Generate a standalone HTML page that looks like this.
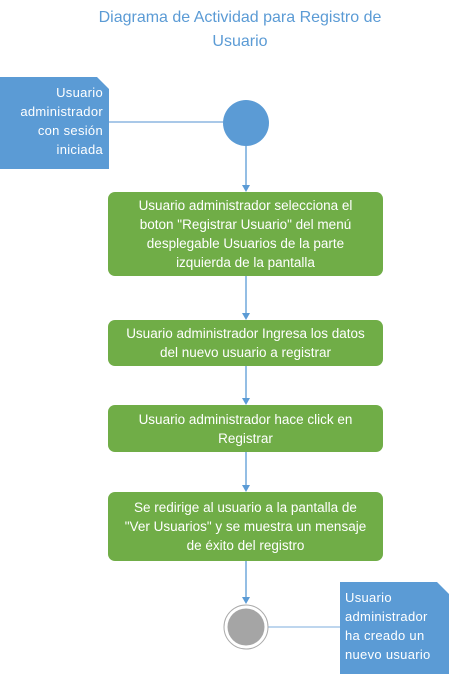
<!DOCTYPE html>
<html><head><meta charset="utf-8"><style>
body{margin:0;width:449px;height:674px;background:#fff;position:relative;overflow:hidden;font-family:"Liberation Sans",sans-serif}
.t{position:absolute;left:40px;width:400px;top:6px;text-align:center;color:#5b9bd5;font-size:16px;line-height:24px}
.b{position:absolute;left:108px;width:275px;background:#70ad47;border-radius:7px;color:#fff;font-size:13.5px;line-height:19px;text-align:center;display:flex;align-items:center;justify-content:center;box-sizing:border-box;white-space:nowrap}
.n{position:absolute;background:#5b9bd5;color:#fff;font-size:13px;line-height:19px;box-sizing:border-box;letter-spacing:0.3px}
</style></head><body>
<div class="t">Diagrama de Actividad para Registro de<br>Usuario</div>
<svg width="449" height="674" style="position:absolute;left:0;top:0">
<g stroke="#5b9bd5" stroke-width="1.3" fill="none">
<line x1="246" y1="146" x2="246" y2="186"/>
<line x1="246" y1="276" x2="246" y2="314"/>
<line x1="246" y1="366" x2="246" y2="399"/>
<line x1="246" y1="452" x2="246" y2="486"/>
<line x1="246" y1="561" x2="246" y2="598"/>
</g>
<g fill="#5b9bd5">
<path d="M242,185 L250,185 L246,192z"/>
<path d="M242,313 L250,313 L246,320z"/>
<path d="M242,398 L250,398 L246,405z"/>
<path d="M242,485 L250,485 L246,492z"/>
<path d="M242,597 L250,597 L246,604z"/>
</g>
<line x1="109" y1="122" x2="223" y2="122" stroke="#a9c8e8" stroke-width="2"/>
<line x1="268" y1="627" x2="340" y2="627" stroke="#a9c8e8" stroke-width="1.5"/>
<circle cx="246" cy="123" r="23" fill="#5b9bd5"/>
<circle cx="246" cy="627" r="22" fill="#fff" stroke="#aaa" stroke-width="1"/>
<circle cx="246" cy="627" r="18.5" fill="#a5a5a5"/>
</svg>
<div class="n" style="left:0;top:77px;width:109px;height:92px;text-align:right;padding:6px 6px 0 0;clip-path:polygon(0 0,97px 0,109px 12px,109px 100%,0 100%)">Usuario<br>administrador<br>con sesión<br>iniciada</div>
<div class="n" style="left:340px;top:582px;width:109px;height:92px;padding:6px 0 0 5px;clip-path:polygon(0 0,97px 0,109px 12px,109px 100%,0 100%)">Usuario<br>administrador<br>ha creado un<br>nuevo usuario</div>
<div class="b" style="top:192px;height:84px">Usuario administrador selecciona el<br>boton "Registrar Usuario" del menú<br>desplegable Usuarios de la parte<br>izquierda de la pantalla</div>
<div class="b" style="top:320px;height:46px">Usuario administrador Ingresa los datos<br>del nuevo usuario a registrar</div>
<div class="b" style="top:405px;height:47px">Usuario administrador hace click en<br>Registrar</div>
<div class="b" style="top:492px;height:69px">Se redirige al usuario a la pantalla de<br>"Ver Usuarios" y se muestra un mensaje<br>de éxito del registro</div>
</body></html>
